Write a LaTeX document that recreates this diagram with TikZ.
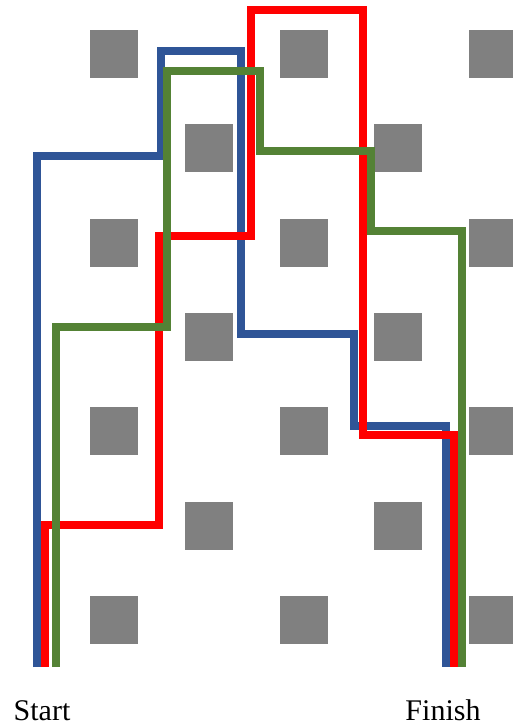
\documentclass[tikz,border=0pt]{standalone}
\usepackage{fontspec}
\setmainfont{Liberation Serif}
\definecolor{pathblue}{HTML}{2F5597}
\definecolor{pathred}{HTML}{FF0000}
\definecolor{pathgreen}{HTML}{548235}
\definecolor{cellgray}{HTML}{808080}

\begin{document}
\begin{tikzpicture}[x=1pt,y=-1pt,
 cell/.style={fill=cellgray,minimum size=48pt,inner sep=0pt},
 route/.style={line width=8pt,line join=miter},
 lbl/.style={font=\fontsize{30}{36}\selectfont,anchor=base,inner sep=0pt}]
\useasboundingbox (0,0) rectangle (512,727);
% obstacles
\foreach \r in {0,...,6}{
  \pgfmathtruncatemacro\off{mod(\r,2)}
  \foreach \c in {0,2,4}{
    \pgfmathtruncatemacro\cc{\c+\off}
    \ifnum\cc<5 \node[cell] (c\r\cc) at (114+94.75*\cc,54+94.3*\r) {};\fi
  }
}
\coordinate (bs) at (37,667);  \coordinate (bf) at (446,667);
\coordinate (rs) at (45,667);  \coordinate (rf) at (454,667);
\coordinate (gs) at (56,667);  \coordinate (gf) at (462,667);
% routes
\draw[route,pathblue] (bs) |- (161,156) |- (241,51) |- (354,334) |- (446,426) -- (bf);
\draw[route,pathred] (rs) |- (159,525) |- (251,236) |- (363,10) |- (454,435) -- (rf);
\draw[route,pathgreen] (gs) |- (167,327) |- (260,71) |- (371,151) |- (462,231) -- (gf);
\node[lbl] (start) at (42,720) {Start};
\node[lbl] (finish) at (443,720) {Finish};
\end{tikzpicture}
\end{document}
